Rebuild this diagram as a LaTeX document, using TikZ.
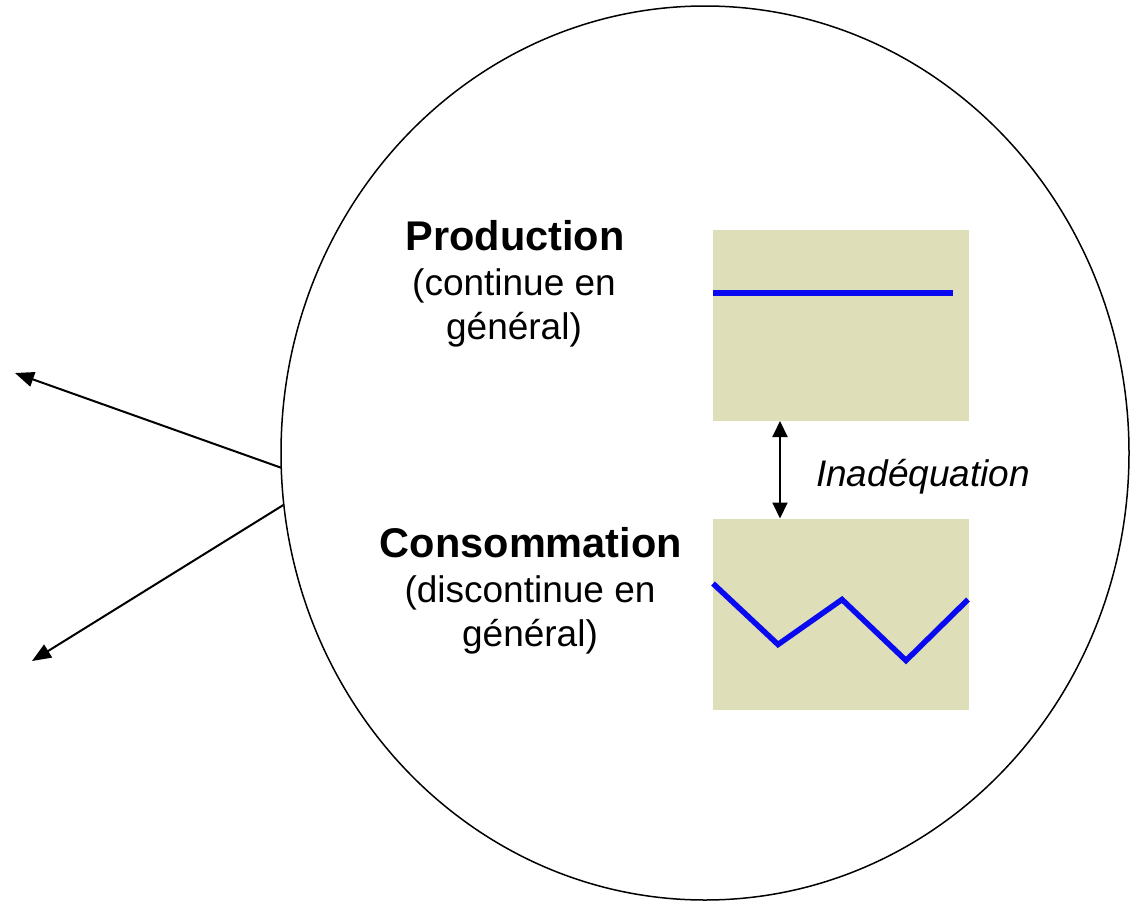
\documentclass[tikz,border=0pt]{standalone}
\usepackage{fontspec}
\setmainfont{Liberation Sans}
\usetikzlibrary{positioning,shapes.geometric,arrows.meta}
\definecolor{boxtan}{RGB}{222,222,184}
\definecolor{lineblue}{RGB}{10,10,240}

\begin{document}
\begin{tikzpicture}[x=1pt, y=-1pt,
    every node/.style={inner sep=0, outer sep=0},
    title/.style={font=\fontsize{41.5}{44}\selectfont\bfseries, anchor=base},
    sub/.style={font=\fontsize{37}{44}\selectfont, align=center, anchor=base},
    graphbox/.style={fill=boxtan, minimum width=256pt, minimum height=191pt},
    curve/.style={draw=lineblue, line width=5.5pt},
    flow/.style={line width=2pt, -{Triangle[length=19pt, width=15pt]}},
    gap/.style={line width=2pt, {Triangle[length=16pt, width=15pt]}-{Triangle[length=16pt, width=15pt]}}
  ]
  \useasboundingbox (0,0) rectangle (1140,902);
  \node[ellipse, draw, line width=1.5pt, minimum width=848pt, minimum height=894pt] (sys) at (705,453) {};

  \node[graphbox] (prod) at (841,325.5) {};
  \node[graphbox] (cons) at (841,614) {};
  \draw[curve] ([yshift=32.5pt]prod.west) -- ++(240,0);
  \draw[curve] ([shift={(0,65)}]cons.north west) -- ++(65,61) -- ++(64,-45) -- ++(64,61) -- ++(62,-61);

  \draw[gap] ([xshift=67pt]prod.south west) -- ([xshift=67pt]cons.north west);
  \node[anchor=base, font=\fontsize{37}{44}\selectfont\itshape] (misfit) at (923,486) {Inadéquation};

  \node[title] (prodtitle) at (515,250) {Production};
  \node[sub] (prodsub) at (514,339) {(continue en\\général)};
  \node[title] (constitle) at (531,557) {Consommation};
  \node[sub] (conssub) at (530,646) {(discontinue en\\général)};

  \coordinate (out1) at (15,373);
  \coordinate (out2) at (32,661);
  \draw[flow] (sys.182) -- (out1);
  \draw[flow] (sys.187) -- (out2);
\end{tikzpicture}
\end{document}
